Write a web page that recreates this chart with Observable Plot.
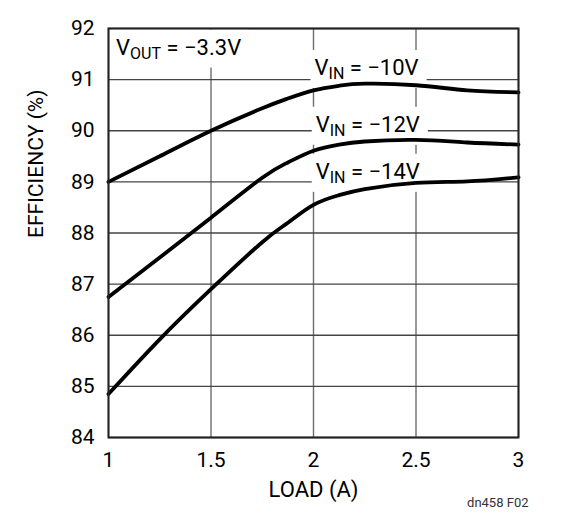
<!DOCTYPE html>
<html><head><meta charset="utf-8">
<script src="https://cdn.jsdelivr.net/npm/d3@7"></script>
<script src="https://cdn.jsdelivr.net/npm/@observablehq/plot@0.6"></script>
<style>
body{margin:0;background:#fff;}
svg{font-family:Roboto,"Liberation Sans",sans-serif;}
</style></head><body><div id="chart"></div>
<script>
const load = [1, 1.25, 1.5, 1.75, 1.875, 2, 2.125, 2.25, 2.5, 2.75, 3];
const eff10 = [89.0, 89.5, 90.0, 90.44, 90.63, 90.79, 90.88, 90.92, 90.89, 90.79, 90.75];
const eff12 = [86.75, 87.52, 88.3, 89.08, 89.38, 89.61, 89.73, 89.79, 89.82, 89.77, 89.73];
const eff14 = [84.85, 85.92, 86.9, 87.82, 88.2, 88.55, 88.74, 88.86, 88.98, 89.01, 89.09];
const seriesNames = ["VIN = −10V", "VIN = −12V", "VIN = −14V"];
const seriesValues = [eff10, eff12, eff14];
const labelNames = ["VOUT = −3.3V", ...seriesNames];
const labelX = [1.037, 2.005, 2.011, 2.011];
const labelY = [91.49, 91.09, 89.98, 89.06];
const xTicks = [1, 1.5, 2, 2.5, 3];
const yTicks = [84, 85, 86, 87, 88, 89, 90, 91, 92];

const rows = seriesNames.flatMap((s, i) => load.map((x, j) => ({series: s, load: x, eff: seriesValues[i][j]})));
const labels = labelNames.map((t, i) => ({text: t, x: labelX[i], y: labelY[i]}));
const fmt = d => String(d);

const chart = Plot.plot({
  width: 561, height: 525,
  marginLeft: 108, marginRight: 43, marginTop: 28, marginBottom: 88,
  x: {domain: [1, 3]},
  y: {domain: [84, 92]},
  marks: [
    Plot.gridX(xTicks, {stroke: "#6e6e6e", strokeOpacity: 1, strokeWidth: 1.4}),
    Plot.gridY(yTicks, {stroke: "#444", strokeOpacity: 1, strokeWidth: 1.3}),
    Plot.text(labels, {x: "x", y: "y", text: "text", textAnchor: "start", lineAnchor: "bottom", fontSize: 22, fill: "#000"}),
    Plot.line(rows, {x: "load", y: "eff", z: "series", curve: "natural", stroke: "#000", strokeWidth: 3.8}),
    Plot.frame({stroke: "#222", strokeWidth: 2}),
    Plot.axisY(yTicks, {tickSize: 0, tickPadding: 14, fontSize: 21, label: null, fill: "#000", tickFormat: fmt}),
    Plot.axisX(xTicks, {tickSize: 0, tickPadding: 15, fontSize: 21, label: null, fill: "#000", tickFormat: fmt}),
    Plot.text(["EFFICIENCY (%)"], {frameAnchor: "left", rotate: -90, dx: -72, dy: 5, fontSize: 21, fill: "#000"}),
    Plot.text(["LOAD (A)"], {frameAnchor: "bottom", lineAnchor: "middle", dy: 52, fontSize: 22, fill: "#000"}),
    Plot.text(["dn458 F02"], {frameAnchor: "bottom-right", textAnchor: "end", lineAnchor: "bottom", dx: 10, dy: 69, fontSize: 13, fill: "#333"})
  ]
});
document.getElementById("chart").appendChild(chart);

d3.select(chart).selectAll("text").each(function() {
  const s = this.textContent;
  const m = s.match(/^V(IN|OUT)( = .*)$/);
  if (!m) return;
  const t = d3.select(this);
  t.text(null);
  t.append("tspan").text("V");
  t.append("tspan").attr("font-size", 16).attr("dy", 4).text(m[1]);
  t.append("tspan").attr("dy", -4).text(m[2]);
  const b = this.getBBox();
  const r = d3.select(this.parentNode).insert("rect", () => this)
    .attr("x", b.x - 4).attr("y", b.y - 5)
    .attr("width", b.width + 12).attr("height", b.height + 10)
    .attr("fill", "#fff");
  if (t.attr("transform")) r.attr("transform", t.attr("transform"));
});
</script></body></html>
